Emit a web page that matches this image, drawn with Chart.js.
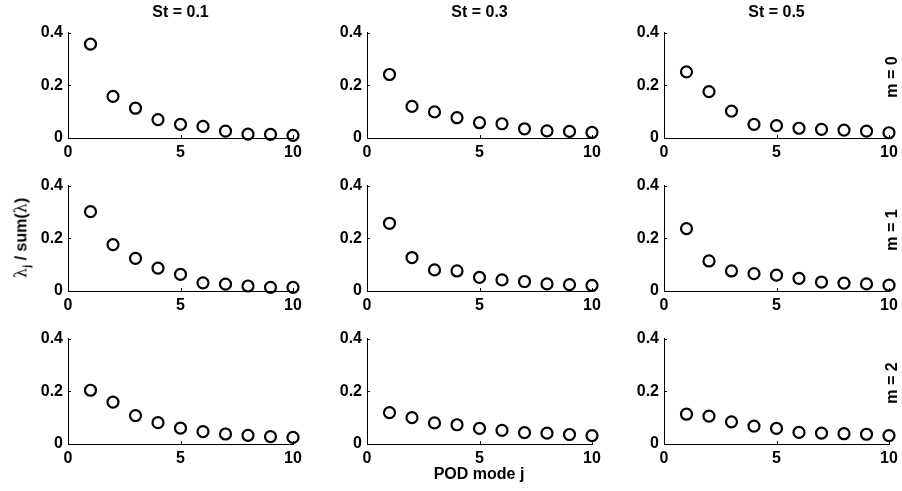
<!DOCTYPE html>
<html>
<head>
<meta charset="utf-8">
<script src="https://cdn.jsdelivr.net/npm/chart.js@4"></script>
<style>
  body { margin: 0; background: #fff; }
  #wrap { position: relative; width: 902px; height: 491px; overflow: hidden; font-family: "Liberation Sans", Arial, sans-serif; }
  canvas { position: absolute; }
  .lbl { position: absolute; font-weight: bold; font-size: 16px; color: #000; white-space: nowrap; transform: translate(-50%, -50%); }
  .rot { transform: translate(-50%, -50%) rotate(-90deg); }
  .sym { font-family: "DejaVu Serif", serif; font-weight: normal; }
</style>
</head>
<body>
<div id="wrap"></div>
<script>
// POD mode index j
const modes = [1, 2, 3, 4, 5, 6, 7, 8, 9, 10];
const stTitles = ['St = 0.1', 'St = 0.3', 'St = 0.5'];
const mLabels = ['m = 0', 'm = 1', 'm = 2'];
const xTicks = [0, 5, 10];
const yTicks = [0, 0.2, 0.4];

// lambda_j / sum(lambda), row = azimuthal mode m, column = St
const m0St01 = [0.356, 0.158, 0.113, 0.070, 0.052, 0.044, 0.026, 0.015, 0.014, 0.010];
const m0St03 = [0.241, 0.120, 0.099, 0.077, 0.058, 0.054, 0.035, 0.027, 0.025, 0.021];
const m0St05 = [0.251, 0.176, 0.102, 0.052, 0.047, 0.037, 0.033, 0.030, 0.026, 0.020];
const m1St01 = [0.301, 0.176, 0.124, 0.087, 0.063, 0.031, 0.026, 0.019, 0.014, 0.014];
const m1St03 = [0.257, 0.127, 0.080, 0.076, 0.052, 0.042, 0.036, 0.027, 0.024, 0.021];
const m1St05 = [0.237, 0.114, 0.076, 0.066, 0.060, 0.048, 0.034, 0.030, 0.027, 0.022];
const m2St01 = [0.204, 0.159, 0.108, 0.081, 0.060, 0.047, 0.038, 0.033, 0.028, 0.025];
const m2St03 = [0.119, 0.100, 0.080, 0.073, 0.059, 0.052, 0.043, 0.041, 0.036, 0.032];
const m2St05 = [0.113, 0.106, 0.084, 0.068, 0.059, 0.044, 0.041, 0.039, 0.037, 0.032];

const grid = [
  [m0St01, m0St03, m0St05],
  [m1St01, m1St03, m1St05],
  [m2St01, m2St03, m2St05]
];

const wrap = document.getElementById('wrap');
const colLeft = [68, 367, 664];
const rowTop = [30, 183, 336];
const plotW = 225, plotH = 108;
const padL = 55, padT = 12, padR = 16, padB = 28;
const tickFont = { family: '"Liberation Sans", Arial, sans-serif', size: 16, weight: 'bold' };

// small inward tick marks, like matlab axes
const innerTicks = {
  id: 'innerTicks',
  afterDraw(chart) {
    const { ctx, chartArea, scales } = chart;
    ctx.save();
    ctx.strokeStyle = '#000';
    ctx.lineWidth = 1;
    ctx.beginPath();
    scales.x.ticks.forEach(t => {
      const px = Math.round(scales.x.getPixelForValue(t.value)) + 0.5;
      ctx.moveTo(px, chartArea.bottom);
      ctx.lineTo(px, chartArea.bottom - 3);
    });
    scales.y.ticks.forEach(t => {
      const py = Math.round(scales.y.getPixelForValue(t.value)) + 0.5;
      ctx.moveTo(chartArea.left, py);
      ctx.lineTo(chartArea.left + 3, py);
    });
    ctx.stroke();
    ctx.restore();
  }
};

function makePanel(r, c) {
  const cv = document.createElement('canvas');
  const w = plotW + padL + padR, h = plotH + padT + padB;
  cv.width = w; cv.height = h;
  cv.style.left = (colLeft[c] - padL) + 'px';
  cv.style.top = (rowTop[r] - padT) + 'px';
  cv.style.width = w + 'px'; cv.style.height = h + 'px';
  wrap.appendChild(cv);

  new Chart(cv.getContext('2d'), {
    type: 'scatter',
    data: {
      datasets: [{
        data: modes.map((j, i) => ({ x: j, y: grid[r][c][i] })),
        pointStyle: 'circle',
        pointRadius: 5.5,
        pointBorderWidth: 2.2,
        pointBackgroundColor: 'rgba(0,0,0,0)',
        pointBorderColor: '#000',
        clip: false
      }]
    },
    options: {
      responsive: false,
      animation: false,
      devicePixelRatio: 1,
      layout: { padding: { top: padT, right: padR, left: 0, bottom: 0 } },
      plugins: { legend: { display: false }, tooltip: { enabled: false } },
      scales: {
        x: {
          type: 'linear', min: 0, max: 10,
          afterBuildTicks: s => { s.ticks = xTicks.map(v => ({ value: v })); },
          afterFit: s => { s.height = padB; },
          grid: { display: false, drawTicks: false },
          border: { display: true, color: '#000', width: 1 },
          ticks: { color: '#000', font: tickFont, padding: 5, maxRotation: 0 }
        },
        y: {
          type: 'linear', min: 0, max: 0.4,
          afterBuildTicks: s => { s.ticks = yTicks.map(v => ({ value: v })); },
          afterFit: s => { s.width = padL; },
          grid: { display: false, drawTicks: false },
          border: { display: true, color: '#000', width: 1 },
          ticks: { color: '#000', font: tickFont, padding: 5 }
        }
      }
    },
    plugins: [innerTicks]
  });
}

for (let r = 0; r < 3; r++) {
  for (let c = 0; c < 3; c++) makePanel(r, c);
}

function addLabel(html, x, y, rot) {
  const d = document.createElement('div');
  d.className = 'lbl' + (rot ? ' rot' : '');
  d.innerHTML = html;
  d.style.left = x + 'px';
  d.style.top = y + 'px';
  wrap.appendChild(d);
}

stTitles.forEach((t, c) => addLabel(t, colLeft[c] + plotW / 2, 12, false));
mLabels.forEach((t, r) => addLabel(t, 892, rowTop[r] + 47, true));
addLabel('POD mode j', 479, 474, false);
addLabel('<span class="sym">λ</span><sub style="font-size:11px">j</sub> / sum(<span class="sym">λ</span>)', 22, 238, true);
</script>
</body>
</html>
